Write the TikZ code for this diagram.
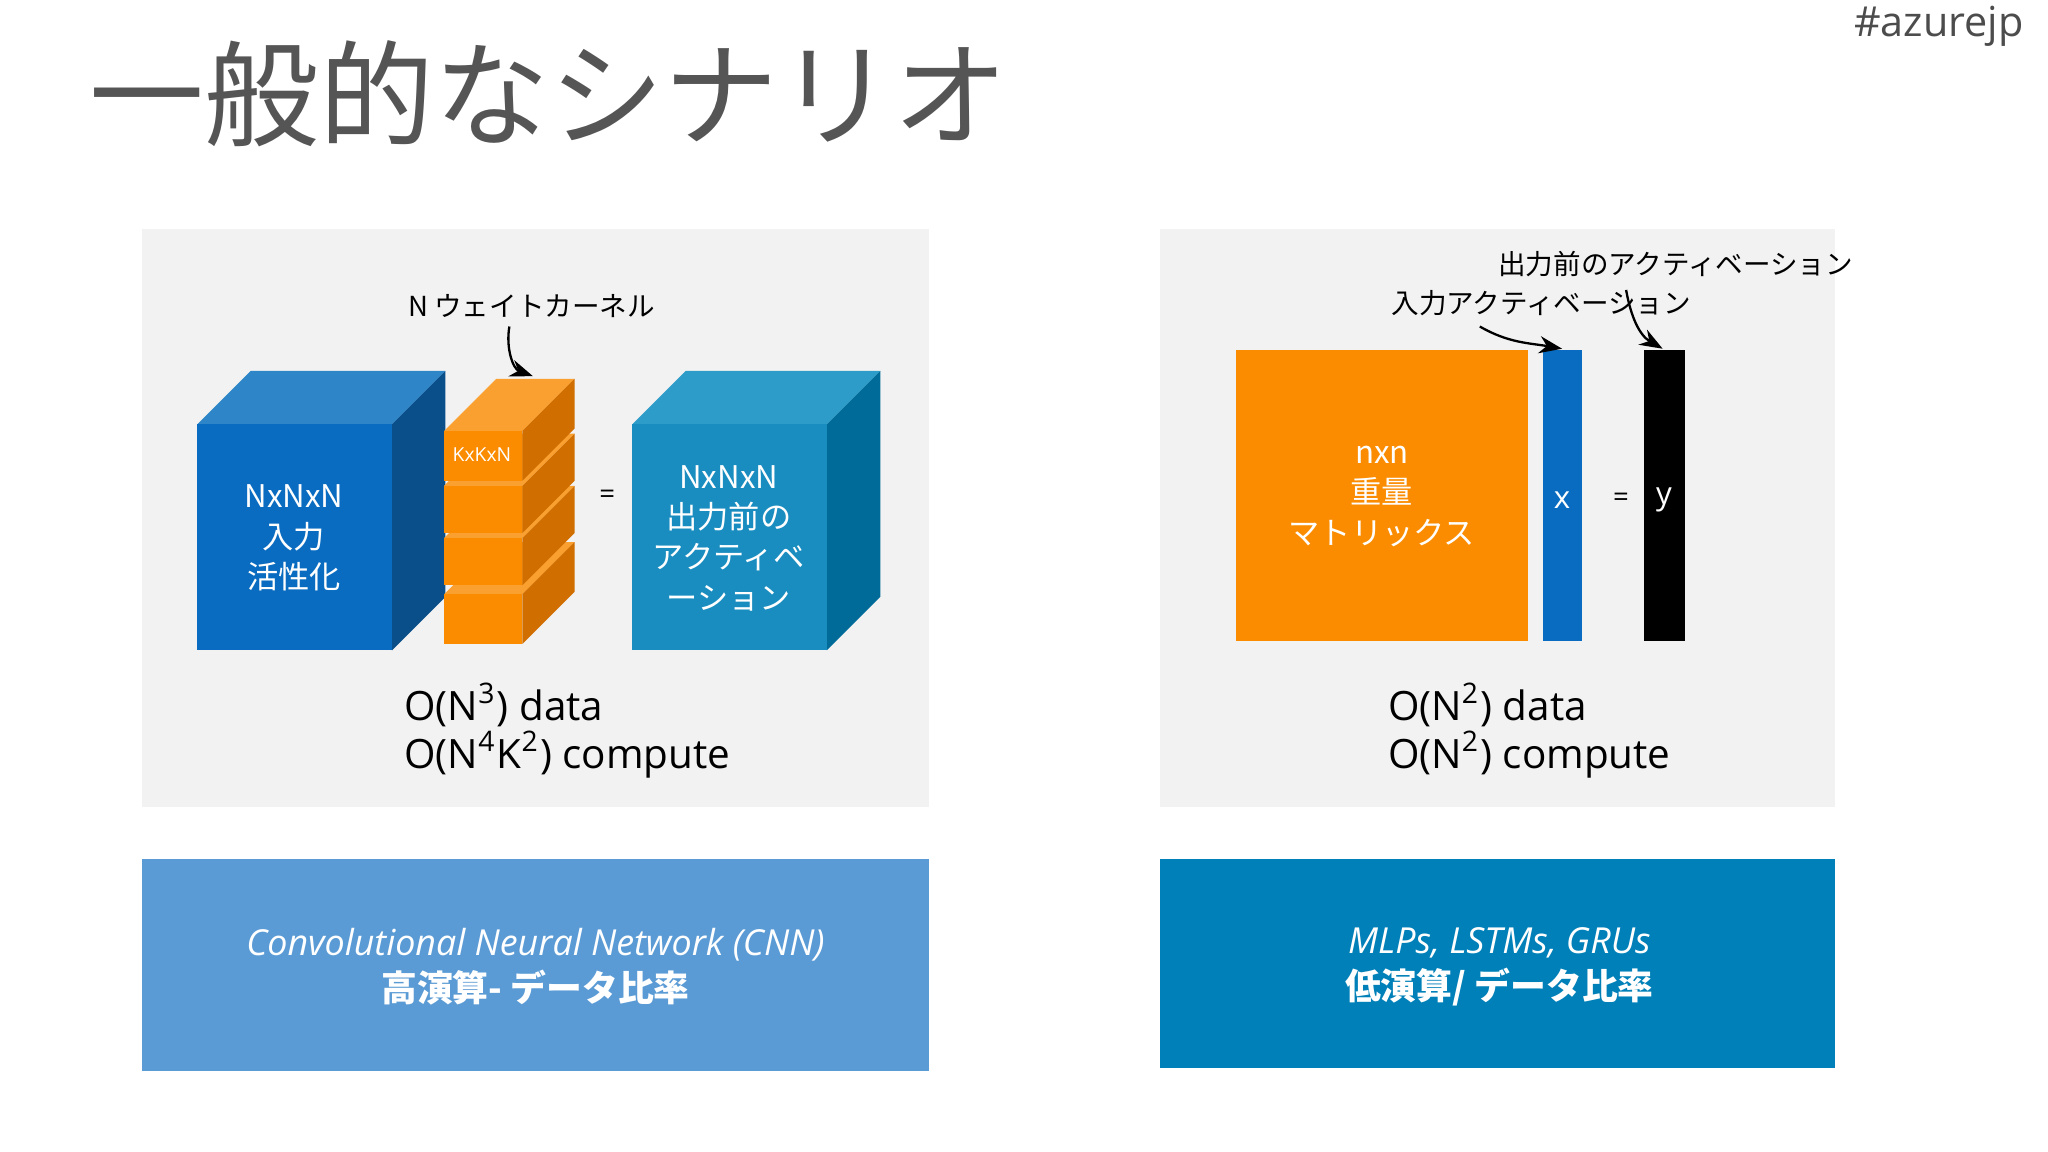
\documentclass[tikz,border=0pt]{standalone}
\usepackage{fontspec}
\setmainfont{Open Sans}
\newfontfamily\jp{Noto Sans CJK JP}
\usetikzlibrary{arrows.meta}
\definecolor{panel}{HTML}{F2F2F2}
\definecolor{bfront}{HTML}{0A6CC0}
\definecolor{btop}{HTML}{2E86C8}
\definecolor{bside}{HTML}{0A4F8A}
\definecolor{cfront}{HTML}{1A8DC0}
\definecolor{ctop}{HTML}{2E9CC8}
\definecolor{cside}{HTML}{006A99}
\definecolor{ofront}{HTML}{FB8C00}
\definecolor{otop}{HTML}{F9A030}
\definecolor{oside}{HTML}{D06E00}
\definecolor{ybar}{HTML}{0085B8}
\definecolor{lbox}{HTML}{5B9BD5}
\definecolor{rbox}{HTML}{0080B8}
\definecolor{ttl}{HTML}{555555}
\tikzset{x=0.01cm,y=-0.01cm,
 lbl/.style={font=\jp\fontsize{6}{7}\selectfont,inner sep=0},
 big/.style={font=\fontsize{8.8}{10.5}\selectfont,align=left,anchor=north west,inner sep=0},
 wt/.style={text=white,align=center,font=\jp\fontsize{6.8}{8.8}\selectfont},
 arr/.style={-{Stealth[length=5pt]},line width=0.5pt}}
\begin{document}
\begin{tikzpicture}
\useasboundingbox (0,0) rectangle (1568,882);
\fill[white] (0,0) rectangle (1568,882);
\node[anchor=west,text=ttl,font=\jp\fontsize{25}{28}\selectfont,inner sep=0] (title) at (68,72) {一般的なシナリオ};
\node[anchor=east,text=ttl!90!black,font=\fontsize{9}{10}\selectfont,inner sep=0] (tag) at (1550,20) {\#azurejp};
\fill[panel] (109,175) rectangle (711,618);
\fill[panel] (888,175) rectangle (1405,618);
% left cube
\fill[btop] (151,325)--(192,284)--(341,284)--(300,325)--cycle;
\fill[bside] (300,325)--(341,284)--(341,457)--(300,498)--cycle;
\fill[bfront] (151,325) rectangle (300,498);
\node[wt] (inp) at (225,412) {NxNxN\\入力\\活性化};
% kernels
\foreach \a/\b in {455/493,412/448,372/408,330/368}{
 \fill[otop] (340,\a)--(380,\a-40)--(440,\a-40)--(400,\a)--cycle;
 \fill[oside] (400,\a)--(440,\a-40)--(440,\b-40)--(400,\b)--cycle;
 \fill[ofront] (340,\a) rectangle (400,\b);}
\node[text=white,font=\fontsize{4.2}{5}\selectfont,inner sep=0] (kk) at (369,348) {KxKxN};
\node[font=\fontsize{6}{7}\selectfont] (eq1) at (465,380) {=};
% right cube
\fill[ctop] (484,325)--(525,284)--(674,284)--(633,325)--cycle;
\fill[cside] (633,325)--(674,284)--(674,457)--(633,498)--cycle;
\fill[cfront] (484,325) rectangle (633,498);
\node[wt] (outp) at (558,412) {NxNxN\\出力前の\\アクティベ\\ーション};
\node[lbl] (nk) at (407,234) {N ウェイトカーネル};
\coordinate (kt) at (408,288);
\draw[arr] (390,250) to[out=-100,in=160] (kt);
\node[big] (lo) at (309,522) {O(N\textsuperscript{3}) data\\O(N\textsuperscript{4}K\textsuperscript{2}) compute};
% right
\fill[ofront] (946,268) rectangle (1170,491);
\node[wt] (w) at (1058,380) {nxn\\重量\\マトリックス};
\fill[bfront] (1181,268) rectangle (1211,491);
\node[text=white,font=\fontsize{6.8}{8}\selectfont] (xx) at (1196,383) {x};
\node[font=\fontsize{6}{7}\selectfont] (eq2) at (1241,383) {=};
\fill[ybar] (1259,268) rectangle (1290,491);
\node[text=white,font=\fontsize{6.8}{8}\selectfont] (yy) at (1274,383) {y};
\node[lbl] (l1) at (1283,202) {出力前のアクティベーション};
\node[lbl] (l2) at (1180,232) {入力アクティベーション};
\coordinate (xt) at (1196,267);
\coordinate (yt) at (1273,267);
\draw[arr] (1133,250) to[out=-30,in=170] (xt);
\draw[arr] (1245,222) to[out=-80,in=150] (yt);
\node[big] (ro) at (1062,522) {O(N\textsuperscript{2}) data\\O(N\textsuperscript{2}) compute};
% bottom boxes
\fill[lbox] (109,658) rectangle (711,820);
\node[text=white,align=center,font=\fontsize{7.8}{10}\selectfont] (lt) at (410,740) {\textit{Convolutional Neural Network (CNN)}\\{\jp\bfseries\itshape 高演算- データ比率}};
\fill[rbox] (888,658) rectangle (1405,818);
\node[text=white,align=center,font=\fontsize{7.8}{10}\selectfont] (rt) at (1148,740) {\textit{MLPs, LSTMs, GRUs}\\{\jp\bfseries\itshape 低演算/ データ比率}};
\end{tikzpicture}
\end{document}
